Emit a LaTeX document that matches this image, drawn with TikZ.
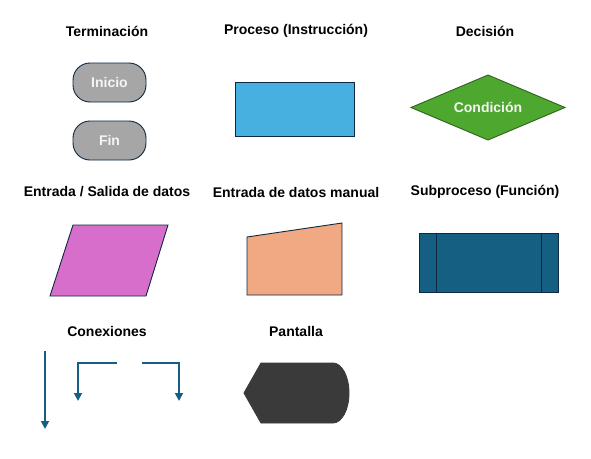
\documentclass[tikz,border=0pt]{standalone}
\usepackage{fontspec}
\setmainfont{Liberation Sans}
\usetikzlibrary{shapes.geometric,arrows.meta}

\definecolor{contorno}{HTML}{0E2841}
\definecolor{gris}{HTML}{A6A6A6}
\definecolor{celeste}{HTML}{47B0E0}
\definecolor{verde}{HTML}{4EA72E}
\definecolor{rosa}{HTML}{D86ECC}
\definecolor{salmon}{HTML}{F1A983}
\definecolor{azul}{HTML}{156082}
\definecolor{oscuro}{HTML}{3A3A3A}

\begin{document}
\begin{tikzpicture}[x=1pt,y=-1pt,
    nodes = {font=\fontsize{14}{16}\selectfont\bfseries},
    figura/.style={draw=contorno,line width=0.9pt},
    terminal/.style={figura,rounded corners=17pt,
      fill=gris,text=white!96!black,minimum width=73pt,minimum height=39pt},
    conector/.style={draw=azul,line width=1.8pt,-{Triangle[width=8pt,length=8pt]}}]
  \useasboundingbox (0,0) rectangle (591,458);
  % Titulos
  \foreach \x/\y/\nombre/\texto in {
      107/31/tTerm/{Terminación},
      296/31/tProc/{Proceso (Instrucción)},
      485/31/tDec/{Decisión},
      107/192/tES/{Entrada / Salida de datos},
      296/192/tMan/{Entrada de datos manual},
      485/192/tSub/{Subproceso (Función)},
      107/331/tCon/{Conexiones},
      296/331/tPan/{Pantalla}
    } {
      \node (\nombre) at (\x,\y) {\texto};
    }
  % Terminacion
  \node[terminal] (inicio) at (109.5,82.5) {Inicio};
  \node[terminal] (fin) at (109.5,140.5) {Fin};
  % Proceso
  \node[figura,fill=celeste,minimum width=119pt,minimum height=54pt] (proceso) at (294.5,109) {};
  % Decision
  \draw[figura,draw=verde!60!black,fill=verde] (411,107.5) -- (488,75) -- (565,107.5)
    -- (488,140) -- cycle;
  \node[text=white!96!black] (decision) at (488,107.5) {Condición};
  % Entrada / Salida
  \draw[figura,fill=rosa] (73,225) -- (168,225) -- (146,296) -- (50,296) -- cycle;
  % Entrada manual
  \draw[figura,fill=salmon] (247,237) -- (342,223) -- (342,295) -- (247,295) -- cycle;
  % Subproceso
  \node[figura,fill=azul,minimum width=139pt,minimum height=59pt] (sub) at (488.5,262.5) {};
  \draw[contorno,line width=0.9pt] ([xshift=18pt]sub.north west) -- ([xshift=18pt]sub.south west);
  \draw[contorno,line width=0.9pt] ([xshift=-17pt]sub.north east) -- ([xshift=-17pt]sub.south east);
  % Conexiones
  \coordinate (c1a) at (45,351);
  \coordinate (c1b) at (45,429);
  \coordinate (c2a) at (117,363);
  \coordinate (c2b) at (78,401);
  \coordinate (c3a) at (142,363);
  \coordinate (c3b) at (179,401);
  \draw[conector] (c1a) -- (c1b);
  \draw[conector] (c2a) -| (c2b);
  \draw[conector] (c3a) -| (c3b);
  % Pantalla
  \draw[figura,draw=oscuro,fill=oscuro] (244,393) -- (261,363) -- (333,363)
    arc[start angle=-90,end angle=90,x radius=16,y radius=30] -- (261,423) -- cycle;
\end{tikzpicture}
\end{document}
